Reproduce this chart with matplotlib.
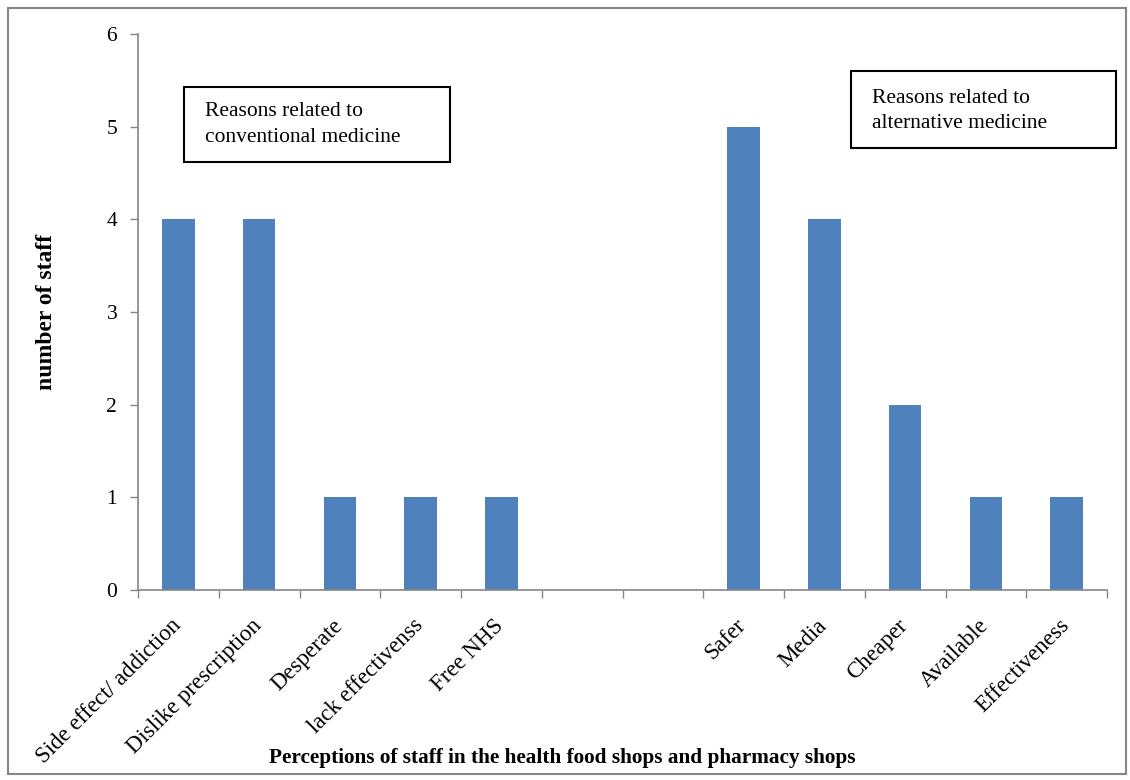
import numpy as np
import matplotlib.pyplot as plt
from matplotlib.patches import Rectangle

categories = ["Side effect/ addiction", "Dislike prescription", "Desperate",
              "lack effectivenss", "Free NHS", "", "",
              "Safer", "Media", "Cheaper", "Available", "Effectiveness"]
values = [4, 4, 1, 1, 1, 0, 0, 5, 4, 2, 1, 1]
yticks = [0, 1, 2, 3, 4, 5, 6]

plt.rcParams['font.family'] = ['Liberation Serif', 'DejaVu Serif']

W, H = 1130, 780
fig = plt.figure(figsize=(W / 100, H / 100), dpi=100)
ax = fig.add_axes([138 / W, 1 - 590 / H, (1107 - 138) / W, (590 - 34) / H])

x = np.arange(len(categories))
ax.bar(x, values, width=0.4, color="#4F81BD", zorder=2)

ax.set_xlim(-0.5, len(categories) - 0.5)
ax.set_ylim(0, 6)
ax.set_yticks(yticks)
ax.set_yticklabels([str(v) for v in yticks], fontsize=15.5)

# ticks at category boundaries, labels at centres
ax.set_xticks(np.arange(len(categories) + 1) - 0.5)
ax.set_xticklabels([])
ax.tick_params(axis="x", length=6, color="#868686", width=1)
ax.tick_params(axis="y", length=6, color="#868686", width=1, pad=9)
for xi, lab in zip(x, categories):
    ax.text(xi - 0.1, -0.27, lab, rotation=45, ha="right", va="top",
            rotation_mode="anchor", fontsize=16.5)

for s in ["top", "right"]:
    ax.spines[s].set_visible(False)
for s in ["left", "bottom"]:
    ax.spines[s].set_color("#868686")
    ax.spines[s].set_linewidth(1.2)


def fy(py):
    # figure pixel row -> figure fraction
    return 1 - py / H


# annotation boxes
fig.patches.append(Rectangle((184 / W, fy(162)), (450 - 184) / W, (162 - 87) / H,
                             transform=fig.transFigure, fill=False,
                             edgecolor="black", linewidth=1.5))
fig.text(205 / W, fy(116), "Reasons related to", fontsize=15.5, va="baseline")
fig.text(205 / W, fy(142), "conventional medicine", fontsize=15.5, va="baseline")
fig.patches.append(Rectangle((851 / W, fy(148)), (1116 - 851) / W, (148 - 71) / H,
                             transform=fig.transFigure, fill=False,
                             edgecolor="black", linewidth=1.5))
fig.text(872 / W, fy(103), "Reasons related to", fontsize=15.5, va="baseline")
fig.text(872 / W, fy(128), "alternative medicine", fontsize=15.5, va="baseline")

fig.text(47 / W, fy(312), "number of staff", rotation=90, ha="center",
         va="center", fontsize=17, fontweight="bold")
fig.text(562 / W, fy(758), "Perceptions of staff in the health food shops and pharmacy shops",
         ha="center", va="center", fontsize=15.3, fontweight="bold")

# outer frame
fig.patches.append(Rectangle((8 / W, fy(774)), (1126 - 8) / W, (774 - 8) / H,
                             transform=fig.transFigure, fill=False,
                             edgecolor="#868686", linewidth=1.5))

fig.savefig("out.png", dpi=100)
